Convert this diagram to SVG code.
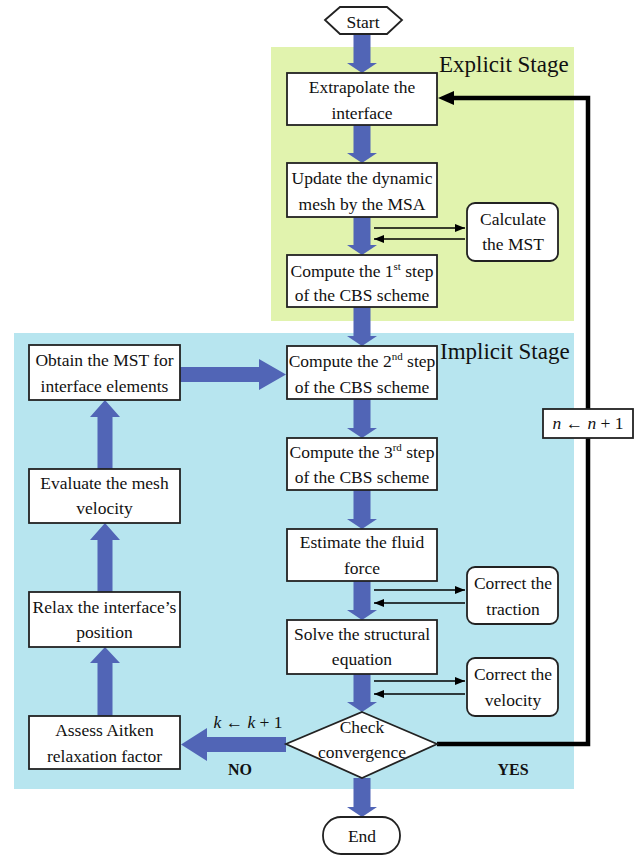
<svg xmlns="http://www.w3.org/2000/svg" width="640" height="855" viewBox="0 0 640 855" font-family="'Liberation Serif', 'Times New Roman', 'DejaVu Serif', serif">
<defs>
<style>
text{font-family:'Liberation Serif','Times New Roman','DejaVu Serif',serif;font-size:17.5px;fill:#111;text-anchor:middle}
.box{fill:#fff;stroke:#222;stroke-width:1.8}
.blue{fill:#5165b6}
.thin{stroke:#000;stroke-width:1.6;fill:none}
.stage{font-size:23px;text-anchor:start}
.b{font-weight:bold;font-size:16px}
.sup{font-size:11px}
</style>
<marker id="ah" viewBox="0 0 10 8" refX="10" refY="4" markerWidth="10" markerHeight="8" markerUnits="userSpaceOnUse" orient="auto">
<path d="M0,0 L10,4 L0,8 Z" fill="#000"/>
</marker>
</defs>
<rect x="0" y="0" width="640" height="855" fill="#fff"/>
<rect id="explicit-bg" x="271" y="47" width="303" height="274" fill="#e1f3ae"/>
<rect id="implicit-bg" x="14" y="333" width="560" height="456" fill="#b7e5ef"/>
<text class="stage" x="439" y="72" font-family="'Liberation Serif', serif">Explicit Stage</text>
<text class="stage" x="440" y="359" font-family="'Liberation Serif', serif">Implicit Stage</text>

<g id="connectors">
<polygon class="blue" points="353.5,34 370.5,34 370.5,63 377,63 362,73 347,63 353.5,63"/>
<polygon class="blue" points="353.5,125 370.5,125 370.5,153 377,153 362,163 347,153 353.5,153"/>
<polygon class="blue" points="353.5,217 370.5,217 370.5,245 377,245 362,255 347,245 353.5,245"/>
<polygon class="blue" points="353.5,307 370.5,307 370.5,336 377,336 362,346 347,336 353.5,336"/>
<polygon class="blue" points="353.5,399 370.5,399 370.5,428 377,428 362,438 347,428 353.5,428"/>
<polygon class="blue" points="353.5,490 370.5,490 370.5,519 377,519 362,529 347,519 353.5,519"/>
<polygon class="blue" points="353.5,581 370.5,581 370.5,610 377,610 362,620 347,610 353.5,610"/>
<polygon class="blue" points="353.5,674 370.5,674 370.5,702 377,702 362,712 347,702 353.5,702"/>
<polygon class="blue" points="353.5,778 370.5,778 370.5,807 377,807 362,817 347,807 353.5,807"/>
<polygon class="blue" points="97.5,716 112.5,716 112.5,663 120,663 105,647 90,663 97.5,663"/>
<polygon class="blue" points="97.5,592 112.5,592 112.5,540 120,540 105,523 90,540 97.5,540"/>
<polygon class="blue" points="97.5,469 112.5,469 112.5,417 120,417 105,400 90,417 97.5,417"/>
<polygon class="blue" points="180,367 259,367 259,359 286,374.5 259,390 259,382 180,382"/>
<polygon class="blue" points="286,737 207,737 207,728 181,744.5 207,761 207,752 286,752"/>
<line class="thin" x1="374" y1="228" x2="465" y2="228" marker-end="url(#ah)"/>
<line class="thin" x1="465" y1="239" x2="374" y2="239" marker-end="url(#ah)"/>
<line class="thin" x1="374" y1="590" x2="465" y2="590" marker-end="url(#ah)"/>
<line class="thin" x1="465" y1="603" x2="374" y2="603" marker-end="url(#ah)"/>
<line class="thin" x1="374" y1="681" x2="465" y2="681" marker-end="url(#ah)"/>
<line class="thin" x1="465" y1="694" x2="374" y2="694" marker-end="url(#ah)"/>
<polyline points="437,744 588,744 588,98 452,98" fill="none" stroke="#000" stroke-width="4.5"/>
<polygon points="438,98 454,91 454,105" fill="#000"/>
<g id="n-label">
<rect class="box" x="543" y="409" width="90" height="29"/>
<text x="588" y="429"><tspan font-style="italic">n</tspan> ← <tspan font-style="italic">n</tspan> + 1</text>
</g>
<text x="248" y="728"><tspan font-style="italic">k</tspan> ← <tspan font-style="italic">k</tspan> + 1</text>
<text class="b" x="240" y="775">NO</text>
<text class="b" x="513" y="775">YES</text>
</g>

<g id="start">
<polygon class="box" points="325,20 340,7 387,7 402,20 387,34 340,34"/>
<text x="363" y="28" font-size="16">Start</text>
</g>
<g id="extrapolate">
<rect class="box" x="287" y="73" width="150" height="52"/>
<text x="362" y="93">Extrapolate the</text>
<text x="362" y="119">interface</text>
</g>
<g id="update-mesh">
<rect class="box" x="287" y="163" width="150" height="54"/>
<text x="362" y="184">Update the dynamic</text>
<text x="362" y="210">mesh by the MSA</text>
</g>
<g id="calc-mst">
<rect class="box" x="467" y="203" width="91" height="58" rx="8"/>
<text x="513" y="225">Calculate</text>
<text x="513" y="250">the MST</text>
</g>
<g id="cbs1">
<rect class="box" x="287" y="255" width="150" height="52"/>
<text x="362" y="277">Compute the 1<tspan class="sup" dy="-7">st</tspan><tspan dy="7"> step</tspan></text>
<text x="362" y="301">of the CBS scheme</text>
</g>
<g id="cbs2">
<rect class="box" x="287" y="346" width="150" height="53"/>
<text x="362" y="367">Compute the 2<tspan class="sup" dy="-7">nd</tspan><tspan dy="7"> step</tspan></text>
<text x="362" y="393">of the CBS scheme</text>
</g>
<g id="cbs3">
<rect class="box" x="287" y="438" width="150" height="52"/>
<text x="362" y="458">Compute the 3<tspan class="sup" dy="-7">rd</tspan><tspan dy="7"> step</tspan></text>
<text x="362" y="483">of the CBS scheme</text>
</g>
<g id="fluid-force">
<rect class="box" x="287" y="529" width="150" height="52"/>
<text x="362" y="548">Estimate the fluid</text>
<text x="362" y="574">force</text>
</g>
<g id="traction">
<rect class="box" x="467" y="567" width="91" height="57" rx="8"/>
<text x="513" y="589">Correct the</text>
<text x="513" y="615">traction</text>
</g>
<g id="structural">
<rect class="box" x="287" y="620" width="150" height="54"/>
<text x="362" y="640">Solve the structural</text>
<text x="362" y="665">equation</text>
</g>
<g id="velocity">
<rect class="box" x="467" y="658" width="91" height="58" rx="8"/>
<text x="513" y="680">Correct the</text>
<text x="513" y="706">velocity</text>
</g>
<g id="convergence">
<polygon class="box" points="362,712 437,744 362,778 286,744"/>
<text x="362" y="733">Check</text>
<text x="362" y="758">convergence</text>
</g>
<g id="end">
<rect class="box" x="323" y="817" width="77" height="37" rx="18"/>
<text x="362" y="842" font-size="16">End</text>
</g>
<g id="obtain-mst">
<rect class="box" x="29" y="345" width="151" height="55"/>
<text x="104.5" y="366">Obtain the MST for</text>
<text x="104.5" y="392">interface elements</text>
</g>
<g id="mesh-velocity">
<rect class="box" x="29" y="469" width="151" height="54"/>
<text x="104.5" y="489">Evaluate the mesh</text>
<text x="104.5" y="514">velocity</text>
</g>
<g id="relax">
<rect class="box" x="29" y="592" width="151" height="55"/>
<text x="104.5" y="613">Relax the interface’s</text>
<text x="104.5" y="638">position</text>
</g>
<g id="aitken">
<rect class="box" x="29" y="716" width="151" height="53"/>
<text x="104.5" y="736">Assess Aitken</text>
<text x="104.5" y="762">relaxation factor</text>
</g>
</svg>
